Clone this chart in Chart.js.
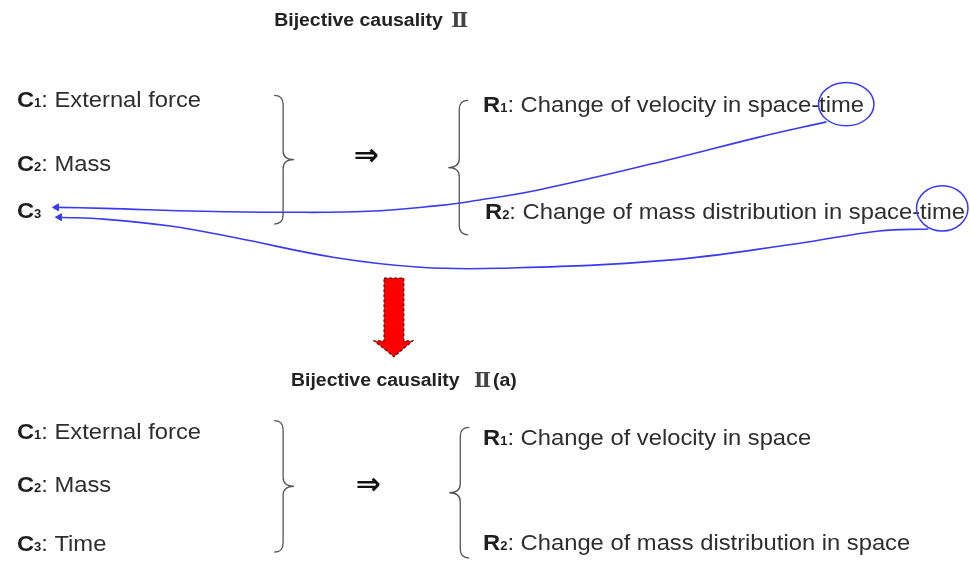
<!DOCTYPE html>
<html>
<head>
<meta charset="utf-8">
<script src="https://cdn.jsdelivr.net/npm/chart.js@4.4.1/dist/chart.umd.min.js"></script>
<style>
  html, body { margin: 0; padding: 0; background: #fff; overflow: hidden; }
  canvas { display: block; }
</style>
</head>
<body>
<canvas id="diagram" width="970" height="566"></canvas>
<script>
// titles
var titleText = ["Bijective causality", "Bijective causality"];
var titleSuffix = ["Ⅱ", "Ⅱ(a)"];
var titleX = [272, 289];
var titleSuffixX = [451, 474];
var titleY = [21, 388];

// cause / result labels
var labels = [
    "C1: External force", "C2: Mass", "C3",
    "R1: Change of velocity in space-time", "R2: Change of mass distribution in space-time",
    "C1: External force", "C2: Mass", "C3: Time",
    "R1: Change of velocity in space", "R2: Change of mass distribution in space"
];
var labelX = [12, 12, 12, 483, 485, 12, 12, 12, 483, 483];
var labelY = [104, 169, 217, 109, 218, 442, 496, 556, 448, 555];

// braces: x of the stem, top, bottom, direction (1 = "}", -1 = "{")
var braceX = [281, 459, 281, 460];
var braceTop = [92, 97, 423, 430];
var braceBottom = [223, 234, 557, 563];
var braceDir = [1, -1, 1, -1];

// implication arrows
var impliesX = [365, 367];
var impliesY = [155, 490];

// circled "time"
var ellipseX = [850, 947];
var ellipseY = [101, 207];
var ellipseRX = [28, 26];
var ellipseRY = [22, 23];

// blue arrows back to C3
var curve1X = [830, 760, 673, 540, 470, 440, 367, 282, 200, 100, 52];
var curve1Y = [119, 135, 157, 188, 200, 204, 210, 211, 210, 207, 206];
var curve2X = [933, 883, 800, 667, 500, 420, 333, 233, 167, 100, 55];
var curve2Y = [228, 230, 243, 260, 268, 267, 257, 237, 225, 218, 216];

// red transition arrow
var redShaft = [383, 403, 278, 342];   // left, right, top, bottom
var redHead = [373, 412, 358];         // left, right, tip

var STRETCH = 1.08;

function toPoints(xs, ys) {
    return xs.map(function (x, i) { return { x: x, y: ys[i] }; });
}

function wideText(ctx, text, x, y) {
    ctx.save();
    ctx.translate(x, y);
    ctx.scale(STRETCH, 1);
    ctx.fillText(text, 0, 0);
    ctx.restore();
    return ctx.measureText(text).width * STRETCH;
}

var diagramPlugin = {
    id: 'diagram',
    afterDatasetsDraw: function (chart) {
        var ctx = chart.ctx;
        var sx = chart.scales.x, sy = chart.scales.y;
        var px = function (v) { return sx.getPixelForValue(v); };
        var py = function (v) { return sy.getPixelForValue(v); };
        ctx.save();
        ctx.textBaseline = 'alphabetic';

        // titles
        ctx.fillStyle = '#222';
        for (var i = 0; i < titleText.length; i++) {
            ctx.font = "bold 18px 'Liberation Sans', Arial, sans-serif";
            wideText(ctx, titleText[i], px(titleX[i]), py(titleY[i]));
            var suf = titleSuffix[i];
            var x = px(titleSuffixX[i]);
            ctx.fillStyle = '#444';
            ctx.font = "bold 20px 'DejaVu Serif', 'Liberation Serif', serif";
            x += ctx.measureText(suf.charAt(0)).width + 2;
            ctx.fillText(suf.charAt(0), px(titleSuffixX[i]), py(titleY[i]) + 1);
            ctx.fillStyle = '#222';
            ctx.font = "bold 18px 'Liberation Sans', Arial, sans-serif";
            wideText(ctx, suf.slice(1), x, py(titleY[i]));
        }

        // labels: bold letter, small digit, normal rest
        for (var j = 0; j < labels.length; j++) {
            var m = labels[j].match(/^([CR])(\d)(.*)$/);
            var lx = px(labelX[j]), ly = py(labelY[j]);
            ctx.fillStyle = '#1e1e1e';
            ctx.font = "bold 22px 'Liberation Sans', Arial, sans-serif";
            lx += wideText(ctx, m[1], lx, ly);
            ctx.font = "bold 12px 'Liberation Sans', Arial, sans-serif";
            lx += wideText(ctx, m[2], lx, ly);
            ctx.fillStyle = '#2e2e2e';
            ctx.font = "22px 'Liberation Sans', Arial, sans-serif";
            wideText(ctx, m[3], lx, ly);
        }

        // implies
        ctx.fillStyle = '#111';
        ctx.font = "bold 30px 'DejaVu Sans'";
        ctx.textAlign = 'center';
        ctx.textBaseline = 'middle';
        for (var k = 0; k < impliesX.length; k++) {
            ctx.fillText('⇒', px(impliesX[k]), py(impliesY[k]));
        }
        ctx.textAlign = 'left';
        ctx.textBaseline = 'alphabetic';

        // braces
        ctx.strokeStyle = '#555';
        ctx.lineWidth = 1.3;
        for (var b = 0; b < braceX.length; b++) {
            var bx = px(braceX[b]), t = py(braceTop[b]), bt = py(braceBottom[b]);
            var d = braceDir[b], mid = (t + bt) / 2, c = 9, tip = 11, curl = 9;
            ctx.beginPath();
            ctx.moveTo(bx - d * curl, t);
            ctx.quadraticCurveTo(bx, t, bx, t + c);
            ctx.lineTo(bx, mid - c);
            ctx.quadraticCurveTo(bx, mid, bx + d * tip, mid);
            ctx.quadraticCurveTo(bx, mid, bx, mid + c);
            ctx.lineTo(bx, bt - c);
            ctx.quadraticCurveTo(bx, bt, bx - d * curl, bt);
            ctx.stroke();
        }

        // ellipses
        ctx.strokeStyle = '#3a3af2';
        ctx.lineWidth = 1.5;
        for (var e = 0; e < ellipseX.length; e++) {
            var rx = Math.abs(px(ellipseX[e] + ellipseRX[e]) - px(ellipseX[e]));
            var ry = Math.abs(py(ellipseY[e] + ellipseRY[e]) - py(ellipseY[e]));
            ctx.beginPath();
            ctx.ellipse(px(ellipseX[e]), py(ellipseY[e]), rx, ry, 0, 0, Math.PI * 2);
            ctx.stroke();
        }

        // red arrow
        var cx = (px(redShaft[0]) + px(redShaft[1])) / 2;
        ctx.beginPath();
        ctx.moveTo(px(redShaft[0]), py(redShaft[2]));
        ctx.lineTo(px(redShaft[1]), py(redShaft[2]));
        ctx.lineTo(px(redShaft[1]), py(redShaft[3]));
        ctx.lineTo(px(redHead[1]), py(redShaft[3]));
        ctx.lineTo(cx, py(redHead[2]));
        ctx.lineTo(px(redHead[0]), py(redShaft[3]));
        ctx.lineTo(px(redShaft[0]), py(redShaft[3]));
        ctx.closePath();
        ctx.fillStyle = '#ff0000';
        ctx.fill();
        ctx.setLineDash([3, 2]);
        ctx.strokeStyle = '#5a1010';
        ctx.lineWidth = 1.2;
        ctx.stroke();
        ctx.restore();
    }
};

var ctx = document.getElementById('diagram').getContext('2d');
var chart = new Chart(ctx, {
    type: 'scatter',
    data: {
        datasets: [
            {
                type: 'line',
                data: toPoints(curve1X, curve1Y),
                borderColor: '#3a3af2',
                borderWidth: 1.6,
                pointRadius: 0,
                tension: 0.4,
                fill: false
            },
            {
                type: 'line',
                data: toPoints(curve2X, curve2Y),
                borderColor: '#3a3af2',
                borderWidth: 1.6,
                pointRadius: 0,
                tension: 0.4,
                fill: false
            },
            {
                data: [
                    { x: curve1X[curve1X.length - 1], y: curve1Y[curve1Y.length - 1] },
                    { x: curve2X[curve2X.length - 1], y: curve2Y[curve2Y.length - 1] }
                ],
                pointStyle: 'triangle',
                rotation: -90,
                pointRadius: 4,
                backgroundColor: '#3a3af2',
                borderColor: '#3a3af2'
            }
        ]
    },
    options: {
        responsive: false,
        animation: false,
        devicePixelRatio: 1,
        layout: { padding: 0 },
        plugins: {
            legend: { display: false },
            tooltip: { enabled: false }
        },
        scales: {
            x: { type: 'linear', min: 0, max: 970, display: false },
            y: { type: 'linear', min: 0, max: 566, reverse: true, display: false }
        }
    },
    plugins: [diagramPlugin]
});
</script>
</body>
</html>
